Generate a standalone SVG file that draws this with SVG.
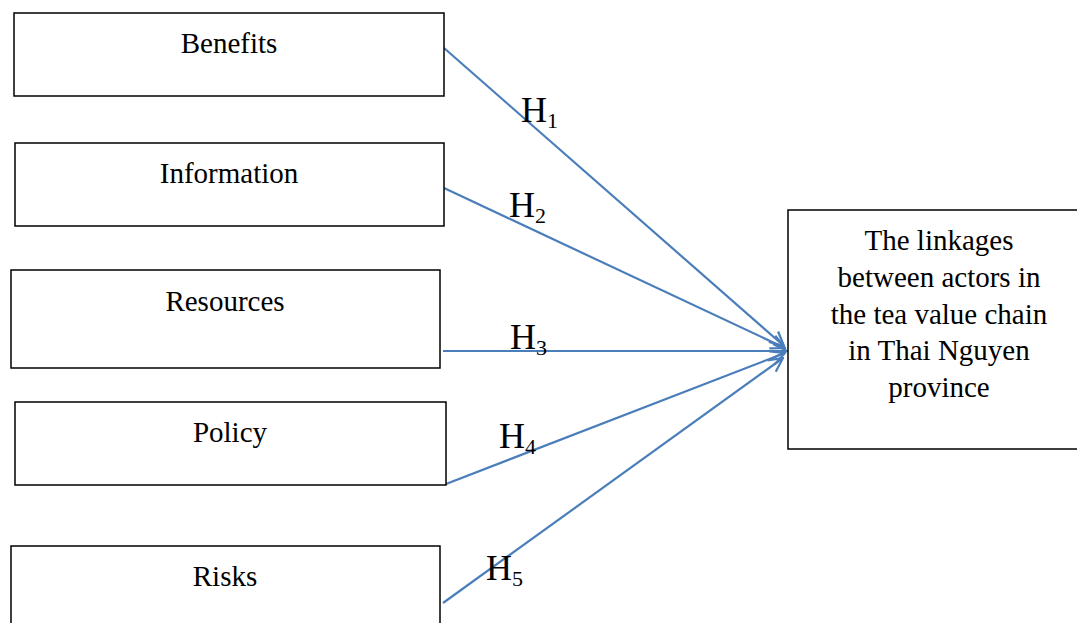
<svg xmlns="http://www.w3.org/2000/svg" width="1077" height="623" viewBox="0 0 1077 623">
<style>
.box{fill:#fff;stroke:#000;stroke-width:1.5}
.t{font-family:"Liberation Serif","Times New Roman",serif;font-size:29px;fill:#000;text-anchor:middle}
.h{font-family:"Liberation Serif","Times New Roman",serif;font-size:36px;fill:#000}
.s{font-size:22px}
.c{stroke:#4a7ebb;stroke-width:2.2;fill:none;marker-end:url(#ah)}
</style>
<defs>
<marker id="ah" viewBox="0 0 16 16" refX="15" refY="8" markerWidth="16" markerHeight="16" markerUnits="userSpaceOnUse" orient="auto">
<path d="M1,1 L15,8 L1,15" fill="none" stroke="#4a7ebb" stroke-width="2.2"/>
</marker>
</defs>
<rect width="1077" height="623" fill="#fff"/>
<g id="connectors">
<line class="c" x1="444" y1="48" x2="784" y2="346"/>
<line class="c" x1="444" y1="188" x2="785" y2="348"/>
<line class="c" x1="443" y1="351" x2="787" y2="351"/>
<line class="c" x1="446" y1="484" x2="785" y2="353"/>
<line class="c" x1="443" y1="603" x2="783" y2="358"/>
<text class="h" x="521" y="122">H<tspan class="s" dy="6">1</tspan></text>
<text class="h" x="509" y="217">H<tspan class="s" dy="6">2</tspan></text>
<text class="h" x="510" y="349">H<tspan class="s" dy="6">3</tspan></text>
<text class="h" x="499" y="448">H<tspan class="s" dy="6">4</tspan></text>
<text class="h" x="486" y="580">H<tspan class="s" dy="6">5</tspan></text>
</g>
<g id="benefits">
<rect class="box" x="14" y="13" width="430" height="83"/>
<text class="t" x="229" y="53">Benefits</text>
</g>
<g id="information">
<rect class="box" x="15" y="143" width="429" height="83"/>
<text class="t" x="229" y="183">Information</text>
</g>
<g id="resources">
<rect class="box" x="11" y="270" width="429" height="98"/>
<text class="t" x="225" y="311">Resources</text>
</g>
<g id="policy">
<rect class="box" x="15" y="402" width="431" height="83"/>
<text class="t" x="230" y="442">Policy</text>
</g>
<g id="risks">
<rect class="box" x="11" y="546" width="429" height="90"/>
<text class="t" x="225" y="586">Risks</text>
</g>
<g id="linkages">
<rect class="box" x="788" y="210" width="300" height="239"/>
<text class="t" x="939" y="250">The linkages</text>
<text class="t" x="939" y="287">between actors in</text>
<text class="t" x="939" y="324">the tea value chain</text>
<text class="t" x="939" y="360">in Thai Nguyen</text>
<text class="t" x="939" y="397">province</text>
</g>
</svg>
